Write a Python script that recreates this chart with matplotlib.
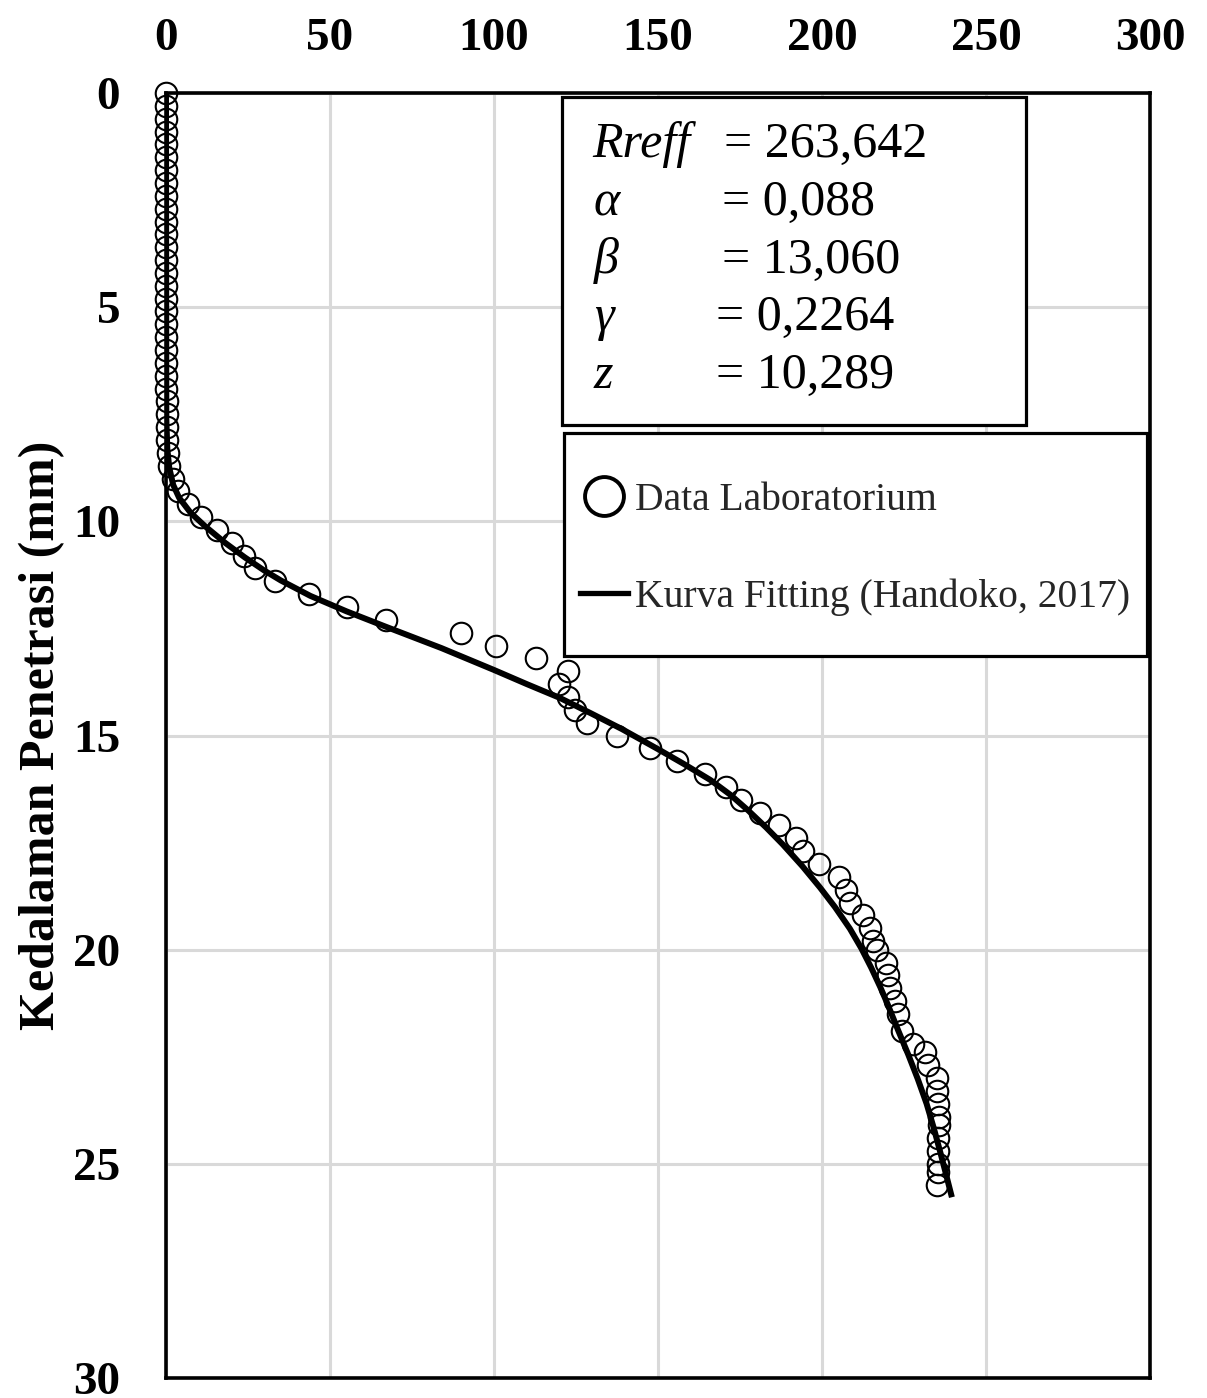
import numpy as np
import matplotlib
matplotlib.use("Agg")
import matplotlib.pyplot as plt
from matplotlib.patches import Rectangle
from matplotlib.lines import Line2D

plt.rcParams['font.family'] = ['Liberation Serif', 'DejaVu Serif']

# laboratory data: penetration resistance (x) vs depth (mm)
depth_lab = [0.0, 0.3, 0.6, 0.9, 1.2, 1.5, 1.8, 2.1, 2.4, 2.7, 3.0, 3.3, 3.6, 3.9,
             4.2, 4.5, 4.8, 5.1, 5.4, 5.7, 6.0, 6.3, 6.6, 6.9, 7.2, 7.5, 7.8, 8.1,
             8.4, 8.7, 9.0, 9.3, 9.6, 9.9, 10.2, 10.5, 10.8, 11.1, 11.4, 11.7, 12.0,
             12.3, 12.6, 12.9, 13.2, 13.5, 13.8, 14.1, 14.4, 14.7, 15.0, 15.3, 15.6,
             15.9, 16.2, 16.5, 16.8, 17.1, 17.4, 17.7, 18.0, 18.3, 18.6, 18.9, 19.2,
             19.5, 19.8, 20.0, 20.3, 20.6, 20.9, 21.2, 21.5, 21.9, 22.2, 22.4, 22.7,
             23.0, 23.3, 23.6, 23.9, 24.1, 24.4, 24.7, 25.0, 25.2, 25.5]
pen_lab = [0.0, 0.0, 0.0, 0.0, 0.0, 0.0, 0.0, 0.0, 0.0, 0.0, 0.0, 0.0, 0.0, 0.0,
           0.0, 0.0, 0.0, 0.0, 0.0, 0.0, 0.1, 0.1, 0.1, 0.1, 0.2, 0.2, 0.2, 0.3,
           0.5, 0.9, 2.2, 3.8, 6.8, 10.7, 15.5, 20.2, 23.9, 27.1, 33.2, 43.5, 55.1,
           67.1, 89.9, 100.6, 112.7, 122.5, 119.9, 122.5, 124.7, 128.3, 137.5, 147.5, 155.9,
           164.3, 170.6, 175.3, 181.1, 187.0, 192.1, 194.3, 199.2, 205.2, 207.3, 208.5, 212.4,
           214.6, 215.6, 216.7, 219.5, 220.2, 220.7, 222.3, 223.3, 224.3, 227.6, 231.4, 232.4,
           235.0, 235.2, 235.5, 235.7, 235.7, 235.5, 235.5, 235.5, 235.5, 235.0]

# fitting curve (Handoko, 2017)
depth_fit = [0.0, 7.6, 8.3, 8.75, 9.15, 9.45, 9.8, 10.12, 10.5, 10.84, 11.15, 11.38,
             11.74, 12.1, 12.46, 12.96, 13.47, 13.8, 14.12, 14.48, 14.85, 15.34,
             15.67, 16.04, 16.38, 16.75, 17.15, 17.54, 18.05, 18.55, 19.01, 19.51,
             19.97, 20.42, 20.88, 21.29, 21.88, 22.45, 23.02, 23.6, 24.17, 24.74, 25.3, 25.78]
pen_fit = [0.0, 0.1, 0.4, 1.0, 2.2, 4.0, 7.5, 12.0, 18.0, 24.0, 30.0, 35.0,
           44.0, 55.0, 67.0, 84.0, 100.0, 110.0, 120.0, 129.5, 139.0, 150.5,
           158.0, 166.0, 172.0, 177.5, 183.0, 188.0, 194.0, 199.4, 204.0, 208.5,
           212.0, 215.0, 217.8, 220.1, 223.2, 226.3, 229.2, 231.9, 234.1, 236.1, 238.0, 239.6]

x_ticks = [0, 50, 100, 150, 200, 250, 300]
y_ticks = [0, 5, 10, 15, 20, 25, 30]

param_names = ['Rreff', 'α', 'β', 'γ', 'z']
param_values = ['= 263,642', '= 0,088', '= 13,060', '= 0,2264', '= 10,289']

W, H = 1207, 1398
fig = plt.figure(figsize=(W / 100, H / 100), dpi=100)
ax = fig.add_axes([166 / W, 1 - 1378 / H, (1150 - 166) / W, (1378 - 93) / H])

def px(x, y):
    return x / W, 1 - y / H

ax.plot(pen_fit, depth_fit, color='k', lw=4.3, zorder=3, solid_capstyle='butt',
        solid_joinstyle='round')
ax.plot(pen_lab, depth_lab, ls='none', marker='o', ms=15.5, mfc='none',
        mec='k', mew=1.5, zorder=4, clip_on=False)

ax.set_xlim(0, 300)
ax.set_ylim(30, 0)
ax.set_xticks(x_ticks)
ax.set_yticks(y_ticks)
ax.xaxis.tick_top()
ax.tick_params(axis='both', length=0, labelsize=34)
ax.tick_params(axis='x', pad=24)
ax.tick_params(axis='y', pad=33)
for lab in ax.get_xticklabels() + ax.get_yticklabels():
    lab.set_fontweight('bold')
ax.grid(True, color='#d9d9d9', lw=2.2)
ax.set_axisbelow(True)
for sp in ax.spines.values():
    sp.set_linewidth(2.6)
ax.set_ylabel('Kedalaman Penetrasi (mm)', fontsize=36, fontweight='bold')
ax.yaxis.set_label_coords(-0.102, 0.5)

# parameter box
x0, y0 = px(562, 425)
x1, y1 = px(1026, 97)
fig.add_artist(Rectangle((x0, y0), x1 - x0, y1 - y0, transform=fig.transFigure,
                         fc='white', ec='k', lw=2.3, zorder=5))
name_x = [592, 594, 594, 594, 594]
val_x = [724, 722, 722, 716, 716]
row_y = [145, 203, 261, 318, 376]
for nm, vl, nx, vx, ry in zip(param_names, param_values, name_x, val_x, row_y):
    fig.text(*px(nx, ry), nm, fontsize=36, fontstyle='italic', va='center', zorder=6)
    fig.text(*px(vx, ry), vl, fontsize=36, va='center', zorder=6)

# legend box
lx0, ly0 = px(564, 656)
lx1, ly1 = px(1147, 433)
fig.add_artist(Rectangle((lx0, ly0), lx1 - lx0, ly1 - ly0, transform=fig.transFigure,
                         fc='white', ec='k', lw=2.3, zorder=5))
h_lab = Line2D([], [], ls='none', marker='o', ms=28, mfc='none', mec='k', mew=2.8)
h_fit = Line2D([], [], color='k', lw=3.8)
leg = fig.legend([h_lab, h_fit], ['Data Laboratorium', 'Kurva Fitting (Handoko, 2017)'],
                 loc='center left', bbox_to_anchor=px(580, 549),
                 borderaxespad=0, borderpad=0, fontsize=28.5, frameon=False,
                 handlelength=1.2, handletextpad=0.2, labelspacing=1.5,
                 labelcolor='#262626')
leg.set_zorder(6)

fig.savefig('out.png', dpi=100)
